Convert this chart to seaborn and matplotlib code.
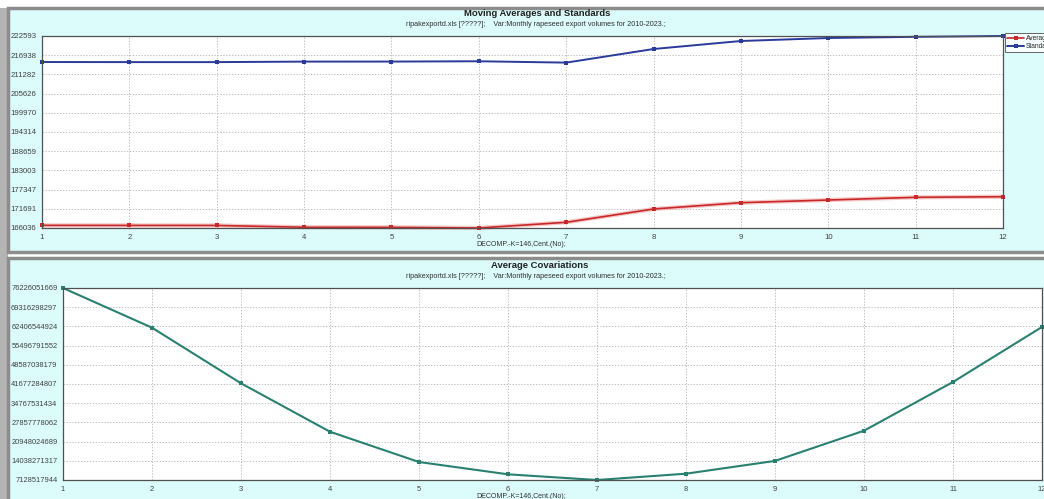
import numpy as np
import pandas as pd
import matplotlib
matplotlib.use("Agg")
import matplotlib.pyplot as plt
import matplotlib.patches as mpatches
import seaborn as sns

# valores
lags = [1, 2, 3, 4, 5, 6, 7, 8, 9, 10, 11, 12]
average = [166820, 166800, 166790, 166250, 166230, 166036, 167710, 171630, 173490, 174280, 175070, 175250]
standard = [214930, 214900, 214900, 215050, 215060, 215150, 214750, 218760, 221120, 222000, 222350, 222593]
covar = [76226051669, 61940000000, 41930000000, 24500000000, 13600000000, 9170000000,
         7128517944, 9400000000, 14000000000, 24870000000, 42400000000, 62200000000]

top_ticklabels = ["166036", "171691", "177347", "183003", "188659", "194314",
                  "199970", "205626", "211282", "216938", "222593"]
bot_ticklabels = ["7128517944", "14038271317", "20948024689", "27857778062", "34767531434",
                  "41677284807", "48587038179", "55496791552", "62406544924", "69316298297",
                  "76226051669"]

title_top = "Moving Averages and Standards"
title_bot = "Average Covariations"
subtitle = "ripakexportd.xls [?????];    Var:Monthly rapeseed export volumes for 2010-2023.;"
xlabel = "DECOMP.-K=146,Cent.(No);"

df = pd.DataFrame({"lag": lags, "Average": average, "Standard": standard, "cov": covar})

sns.set_style("white")
plt.rcParams["font.family"] = ["Liberation Sans", "DejaVu Sans"]

W, H = 1044, 499
fig = plt.figure(figsize=(W / 100, H / 100), dpi=100, facecolor="white")

cyan = "#dcfcfc"
border = "#8c8c8c"

# fundo dos painéis (atrás dos eixos)
fig.patches.append(mpatches.Rectangle((0, 0), 8 / W, (H - 8) / H, transform=fig.transFigure,
                                      facecolor="#b4b4b4", edgecolor="none", zorder=-2))
fig.patches.append(mpatches.Rectangle((8 / W, (H - 252) / H), 1.02, 244 / H, transform=fig.transFigure,
                                      facecolor=cyan, edgecolor=border, linewidth=2.5, zorder=-2))
fig.patches.append(mpatches.Rectangle((8 / W, -0.02), 1.02, (H - 258) / H + 0.02, transform=fig.transFigure,
                                      facecolor=cyan, edgecolor=border, linewidth=2.5, zorder=-2))


def style_axis(ax, ylabels, fs):
    ax.set_facecolor("white")
    ymin, ymax = min(float(l) for l in ylabels), max(float(l) for l in ylabels)
    ax.set_ylim(ymin, ymax)
    ax.set_xlim(lags[0], lags[-1])
    ax.set_yticks(np.linspace(ymin, ymax, len(ylabels)))
    ax.set_yticklabels(ylabels)
    ax.set_xticks(lags)
    ax.set_xticklabels([str(l) for l in lags])
    ax.tick_params(axis="both", labelsize=fs, colors="#404040", length=2, width=0.6, pad=2)
    ax.grid(True, color="#b0b0b0", linestyle=(0, (1.5, 2)), linewidth=0.6)
    for s in ax.spines.values():
        s.set_color("#505050")
        s.set_linewidth(0.9)
    ax.set_xlabel("")
    ax.set_ylabel("")


# gráfico de cima
ax1 = fig.add_axes([42 / W, (H - 228) / H, 961 / W, 192 / H])
sns.lineplot(data=df, x="lag", y="Average", ax=ax1, color="#f0a0a0", linewidth=3.0, alpha=0.6, legend=False)
sns.lineplot(data=df, x="lag", y="Average", ax=ax1, color="#c82828", linewidth=1.2,
             marker="s", markersize=2.5, markeredgewidth=0, label="Average")
sns.lineplot(data=df, x="lag", y="Standard", ax=ax1, color="#2a3a9a", linewidth=1.4,
             marker="s", markersize=2.5, markeredgewidth=0, label="Standard")
style_axis(ax1, top_ticklabels, 5.6)
for l in ax1.lines:
    l.set_clip_on(False)
leg = ax1.legend(loc="upper left", bbox_to_anchor=(1005 / W, 1 - 33 / H), bbox_transform=fig.transFigure,
                 fontsize=4.8, frameon=True, fancybox=False, borderpad=0.3, handlelength=2.6,
                 handletextpad=0.2, labelspacing=0.15, borderaxespad=0)
leg.get_frame().set_edgecolor("#404040")
leg.get_frame().set_linewidth(0.7)

fig.text(537 / W, 1 - 14 / H, title_top, ha="center", va="center", fontsize=6.8, fontweight="bold", color="#202020")
fig.text(536 / W, 1 - 25 / H, subtitle, ha="center", va="center", fontsize=5.2, color="#303030")
fig.text(521 / W, 1 - 244 / H, xlabel, ha="center", va="center", fontsize=5, color="#303030")

# gráfico de baixo
ax2 = fig.add_axes([63 / W, (H - 480) / H, 979 / W, 192 / H])
sns.lineplot(data=df, x="lag", y="cov", ax=ax2, color="#2a8070", linewidth=1.5,
             marker="s", markersize=2.2, markeredgewidth=0, legend=False)
style_axis(ax2, bot_ticklabels, 5.4)
for l in ax2.lines:
    l.set_clip_on(False)

fig.text(540 / W, 1 - 265 / H, title_bot, ha="center", va="center", fontsize=6.8, fontweight="bold", color="#202020")
fig.text(536 / W, 1 - 276 / H, subtitle, ha="center", va="center", fontsize=5.2, color="#303030")
fig.text(521 / W, 1 - 497 / H, xlabel, ha="center", va="center", fontsize=5, color="#303030")

fig.savefig("out.png", dpi=100, facecolor=fig.get_facecolor())
plt.close(fig)
